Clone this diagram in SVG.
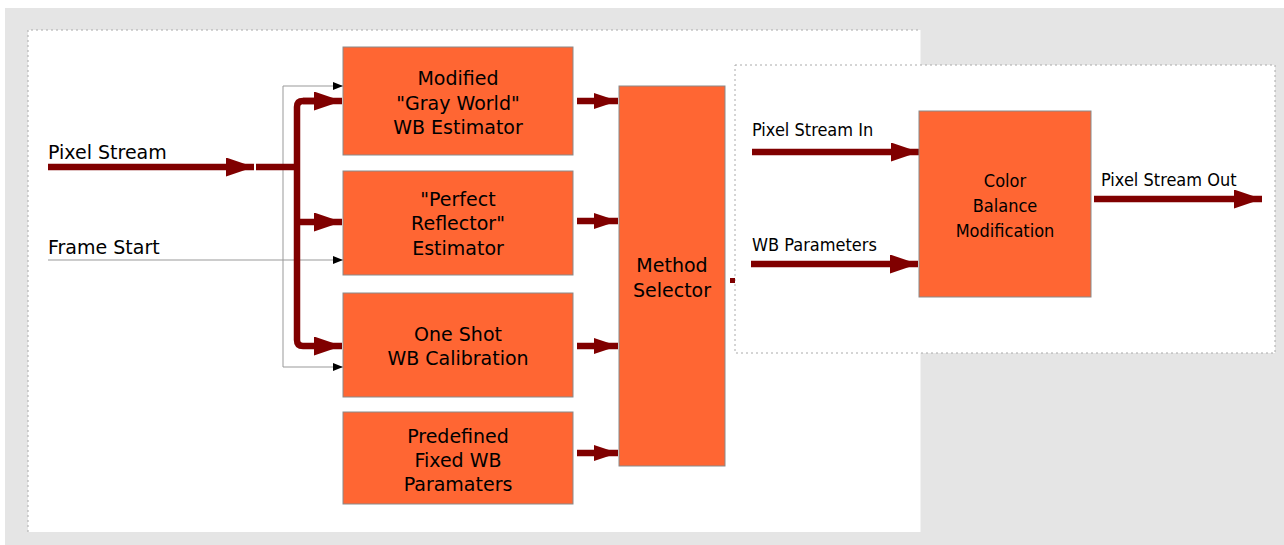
<svg xmlns="http://www.w3.org/2000/svg" width="1284" height="545" viewBox="0 0 1284 545">
<style>
.box{fill:#ff6633;stroke:#8a8a8a;stroke-width:1}
.t{font-family:"DejaVu Sans",Verdana,sans-serif;font-size:19px;fill:#000}
.tc{font-family:"DejaVu Sans Condensed","DejaVu Sans",sans-serif;font-size:18px;fill:#000}
.bt{text-anchor:middle}
.thick{stroke:#800000;stroke-width:6.5;fill:none}
.thin{stroke:#999;stroke-width:1;fill:none}
.dot{fill:none;stroke:#aaa;stroke-width:1;stroke-dasharray:2,3}
</style>
<defs>
<marker id="big" markerUnits="userSpaceOnUse" markerWidth="28" markerHeight="19" refX="28" refY="9.5" orient="auto"><path d="M0,0 L28,9.5 L0,19 z" fill="#800000"/></marker>
<marker id="med" markerUnits="userSpaceOnUse" markerWidth="24" markerHeight="16" refX="24" refY="8" orient="auto"><path d="M0,0 L24,8 L0,16 z" fill="#800000"/></marker>
<marker id="sm" markerUnits="userSpaceOnUse" markerWidth="10" markerHeight="8" refX="10" refY="4" orient="auto"><path d="M0,0 L10,4 L0,8 z" fill="#000"/></marker>
</defs>
<rect x="0" y="0" width="1284" height="545" fill="#fff"/>
<rect x="5" y="8" width="1279" height="537" fill="#e5e5e5"/>
<rect x="28" y="30" width="892.5" height="502" fill="#fff"/>
<path class="dot" d="M28,532 V30 H920"/>
<rect x="735" y="65" width="540" height="288" fill="#fff"/>
<rect class="dot" x="735" y="65" width="540" height="288"/>

<g id="connectors">
<path class="thin" d="M48,260 H343" marker-end="url(#sm)"/>
<path class="thin" d="M283,260 V86 H343" marker-end="url(#sm)"/>
<path class="thin" d="M283,260 V367 H343" marker-end="url(#sm)"/>
<path class="thick" d="M48,167 H254" marker-end="url(#big)"/>
<path class="thick" d="M256,167 H297"/>
<path class="thick" d="M315,101 H303 Q297,101 297,107 V340 Q297,346 303,346 H342" marker-end="url(#big)"/>
<path class="thick" d="M303,101 H342" marker-end="url(#big)"/>
<path class="thick" d="M297,222 H342" marker-end="url(#big)"/>
<path class="thick" d="M577,101 H618" marker-end="url(#med)"/>
<path class="thick" d="M577,221 H618" marker-end="url(#med)"/>
<path class="thick" d="M577,346 H618" marker-end="url(#med)"/>
<path class="thick" d="M577,453 H618" marker-end="url(#med)"/>
<rect x="730" y="278" width="5" height="5" fill="#800000"/>
<path class="thick" d="M752,152 H919" marker-end="url(#big)"/>
<path class="thick" d="M751,264 H918" marker-end="url(#big)"/>
<path class="thick" d="M1094,199 H1262" marker-end="url(#big)"/>
</g>

<text class="t" x="48" y="159">Pixel Stream</text>
<text class="t" x="48" y="254">Frame Start</text>
<text class="tc" x="752" y="136">Pixel Stream In</text>
<text class="tc" x="752" y="251">WB Parameters</text>
<text class="tc" x="1101" y="186">Pixel Stream Out</text>

<g id="gray-world">
<rect class="box" x="343" y="47" width="230" height="108"/>
<text class="t bt" x="458" y="85">Modified</text>
<text class="t bt" x="458" y="110">"Gray World"</text>
<text class="t bt" x="458" y="134">WB Estimator</text>
</g>
<g id="perfect-reflector">
<rect class="box" x="343" y="171" width="230" height="104"/>
<text class="t bt" x="458" y="206">"Perfect</text>
<text class="t bt" x="458" y="230">Reflector"</text>
<text class="t bt" x="458" y="255">Estimator</text>
</g>
<g id="one-shot">
<rect class="box" x="343" y="293" width="230" height="104"/>
<text class="t bt" x="458" y="341">One Shot</text>
<text class="t bt" x="458" y="365">WB Calibration</text>
</g>
<g id="predefined">
<rect class="box" x="343" y="412" width="230" height="92"/>
<text class="t bt" x="458" y="443">Predefined</text>
<text class="t bt" x="458" y="467">Fixed WB</text>
<text class="t bt" x="458" y="491">Paramaters</text>
</g>
<g id="method-selector">
<rect class="box" x="619" y="86" width="106" height="380"/>
<text class="t bt" x="672" y="272">Method</text>
<text class="t bt" x="672" y="297">Selector</text>
</g>
<g id="color-balance">
<rect class="box" x="919" y="111" width="172" height="186"/>
<text class="tc bt" x="1005" y="187" style="font-size:18px">Color</text>
<text class="tc bt" x="1005" y="212" style="font-size:18px">Balance</text>
<text class="tc bt" x="1005" y="237" style="font-size:18px">Modification</text>
</g>
</svg>
